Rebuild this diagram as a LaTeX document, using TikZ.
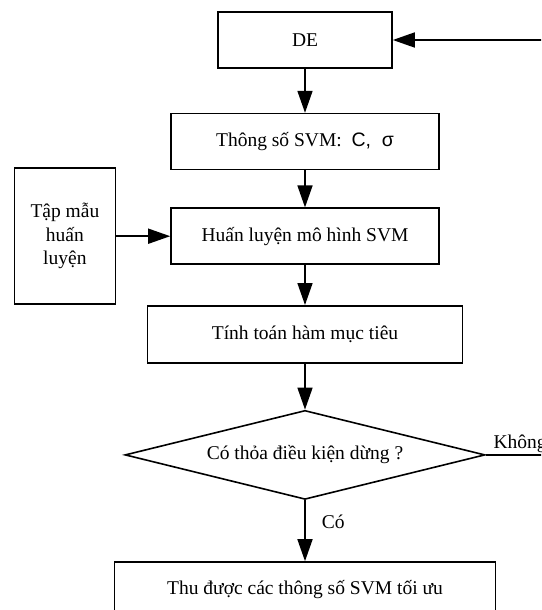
\documentclass[tikz,border=0pt]{standalone}
\usepackage{fontspec}
\setmainfont{Liberation Serif}
\setsansfont{Liberation Sans}
\usepackage{tikz}
\usetikzlibrary{shapes.geometric, arrows.meta, positioning}
\tikzset{
  khoi/.style={
    rectangle, draw=black, line width=1.6pt, inner sep=0pt,
    minimum height=56pt, text centered, fill=white
  },
  quyetdinh/.style={
    diamond, aspect=4, draw=black, line width=1.6pt, inner sep=0pt,
    minimum width=360pt, minimum height=89pt, text centered
  },
  arrow/.style={
    -{Triangle[length=22pt, width=15pt]}, line width=1.6pt, color=black
  },
  nhan/.style={inner sep=0pt}
}

\begin{document}
\begin{tikzpicture}[x=1pt, y=1pt, every node/.style={font=\fontsize{19.5}{23.5}\selectfont}]

    \useasboundingbox (0,0) rectangle (541,-610);
    \clip (0,0) rectangle (541,-610);

    % Các bước
    \node[khoi, minimum width=174pt] (de) at (305,-40) {DE};
    \node[khoi, minimum width=268pt, below=44pt of de] (thongso) {Thông số SVM:\ \ {\sffamily C,\ \ σ}};
    \node[khoi, minimum width=268pt, below=37pt of thongso] (huanluyen) {Huấn luyện mô hình SVM};
    \node[khoi, minimum width=315pt, minimum height=57pt, below=40pt of huanluyen] (tinhtoan) {Tính toán hàm mục tiêu};
    \node[quyetdinh, below=46pt of tinhtoan] (dieukien) {Có thỏa điều kiện dừng ?};
    \node[khoi, minimum width=381pt, below=61pt of dieukien] (ketqua) {Thu được các thông số SVM tối ưu};

    % Dữ liệu
    \node[khoi, minimum width=101pt, minimum height=136pt, align=center, left=54pt of huanluyen] (mau) {Tập mẫu\\huấn\\luyện};

    % Vòng lặp
    \coordinate (vao) at (560,-40);
    \coordinate (ra) at (dieukien.east -| vao);

    % Mũi tên
    \draw[arrow] (de) -- (thongso);
    \draw[arrow] (thongso) -- (huanluyen);
    \draw[arrow] (mau) -- (huanluyen);
    \draw[arrow] (huanluyen) -- (tinhtoan);
    \draw[arrow] (tinhtoan) -- (dieukien);
    \draw[arrow] (dieukien) -- node[nhan, pos=0.36, right=16pt] {Có} (ketqua);
    \draw[line width=1.6pt] (dieukien.east) -- (ra) node[nhan, pos=0, anchor=south west, xshift=7pt, yshift=1pt] {Không};
    \draw[arrow] (vao) -- (de.east);

\end{tikzpicture}
\end{document}
